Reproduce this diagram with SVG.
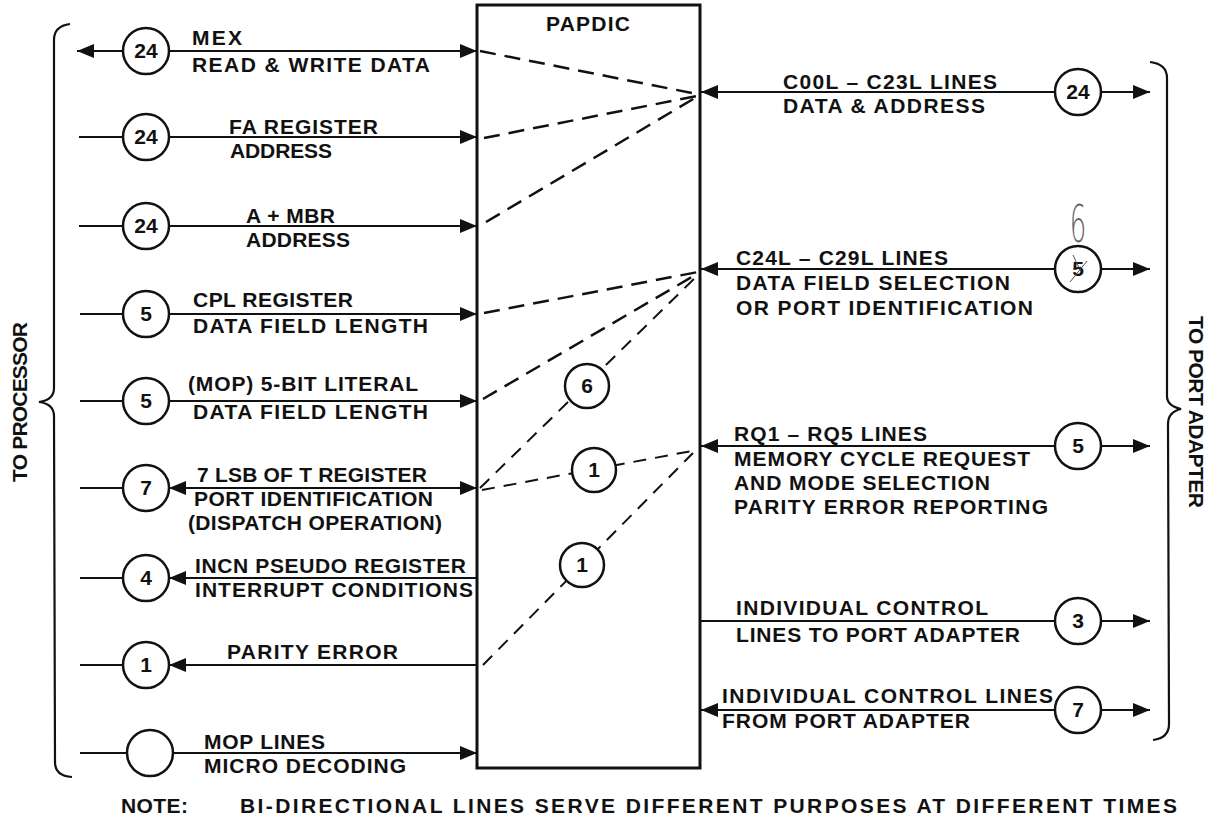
<svg xmlns="http://www.w3.org/2000/svg" width="1219" height="819" viewBox="0 0 1219 819">
<defs>
<marker id="ah" markerUnits="userSpaceOnUse" markerWidth="18" markerHeight="14" refX="17" refY="7" orient="auto"><path d="M0,0 L17,7 L0,14 z" fill="#111"/></marker>
</defs>
<style>
.t{font-family:"Liberation Sans",Arial,sans-serif;font-weight:bold;font-size:21px;fill:#111}
.r{font-family:"Liberation Sans",Arial,sans-serif;font-weight:bold;font-size:21px;fill:#111}
.n{font-family:"Liberation Sans",Arial,sans-serif;font-weight:bold;font-size:21px;fill:#111;text-anchor:middle}
.s{stroke:#111;stroke-width:2.2;fill:none}
.a{marker-end:url(#ah)}
.d{stroke:#111;stroke-width:2.5;fill:none;stroke-dasharray:16 9}
.d2{stroke:#111;stroke-width:2;fill:none;stroke-dasharray:13 9}
.c{fill:#fff;stroke:#111;stroke-width:2.5}
.br{stroke:#111;stroke-width:2.2;fill:none}
</style>
<rect width="1219" height="819" fill="#fff"/>

<g id="connectors">
  <!-- left side -->
  <line class="s a" x1="123" y1="51" x2="77" y2="51"/>
  <line class="s a" x1="169" y1="51" x2="477" y2="51"/>
  <line class="s" x1="79" y1="137" x2="123" y2="137"/>
  <line class="s a" x1="169" y1="137" x2="477" y2="137"/>
  <line class="s" x1="79" y1="226" x2="123" y2="226"/>
  <line class="s a" x1="169" y1="226" x2="477" y2="226"/>
  <line class="s" x1="80" y1="314" x2="123" y2="314"/>
  <line class="s a" x1="169" y1="314" x2="477" y2="314"/>
  <line class="s" x1="80" y1="401" x2="123" y2="401"/>
  <line class="s a" x1="169" y1="401" x2="477" y2="401"/>
  <line class="s" x1="80" y1="488" x2="123" y2="488"/>
  <line class="s a" x1="320" y1="488" x2="169" y2="488"/>
  <line class="s a" x1="320" y1="488" x2="477" y2="488"/>
  <line class="s" x1="80" y1="578" x2="123" y2="578"/>
  <line class="s a" x1="477" y1="578" x2="169" y2="578"/>
  <line class="s" x1="80" y1="665" x2="123" y2="665"/>
  <line class="s a" x1="477" y1="665" x2="169" y2="665"/>
  <line class="s" x1="80" y1="753" x2="127" y2="753"/>
  <line class="s a" x1="173" y1="753" x2="477" y2="753"/>
  <!-- right side -->
  <line class="s a" x1="1055" y1="92" x2="701" y2="92"/>
  <line class="s a" x1="1101" y1="92" x2="1150" y2="92"/>
  <line class="s a" x1="1055" y1="269" x2="701" y2="269"/>
  <line class="s a" x1="1101" y1="269" x2="1150" y2="269"/>
  <line class="s a" x1="1055" y1="446" x2="701" y2="446"/>
  <line class="s a" x1="1101" y1="446" x2="1150" y2="446"/>
  <line class="s" x1="700" y1="621" x2="1055" y2="621"/>
  <line class="s a" x1="1101" y1="621" x2="1150" y2="621"/>
  <line class="s a" x1="1055" y1="710" x2="701" y2="710"/>
  <line class="s a" x1="1101" y1="710" x2="1150" y2="710"/>
  <!-- internal dashed -->
  <line class="d" x1="480" y1="51" x2="697" y2="94"/>
  <line class="d" x1="484" y1="138" x2="697" y2="96"/>
  <line class="d" x1="486" y1="222" x2="695" y2="98"/>
  <line class="d" x1="484" y1="313" x2="698" y2="272"/>
  <line class="d" x1="483" y1="399" x2="697" y2="274"/>
  <line class="d2" x1="480" y1="488" x2="697" y2="276"/>
  <line class="d2" x1="482" y1="490" x2="692" y2="451"/>
  <line class="d2" x1="483" y1="665" x2="693" y2="453"/>
</g>

<g id="papdic">
  <rect x="477" y="5" width="223" height="763" fill="none" stroke="#111" stroke-width="3"/>
  <text class="r" x="546" y="31" textLength="84">PAPDIC</text>
</g>

<g id="left-brace">
  <path class="br" d="M70 24 Q54 26 54 40 L54 388 Q54 400 39 402 Q54 404 54 416 L55 762 Q55 776 72 777"/>
  <text class="r" font-size="19" transform="translate(27,402) rotate(-90)" x="-80" y="0" textLength="160">TO PROCESSOR</text>
</g>
<g id="right-brace">
  <path class="br" d="M1150 62 Q1167 64 1167 78 L1167 396 Q1167 406 1181 409 Q1168 412 1168 424 L1169 724 Q1169 738 1153 740"/>
  <text class="r" font-size="19" transform="translate(1189,412) rotate(90)" x="-96" y="0" textLength="192">TO PORT ADAPTER</text>
</g>

<g id="n-mex"><circle class="c" cx="146" cy="51" r="23"/><text class="n" x="146" y="58">24</text>
  <text class="t" x="192" y="45" textLength="50">MEX</text>
  <text class="t" x="192" y="72" textLength="238">READ &amp; WRITE DATA</text></g>
<g id="n-fa"><circle class="c" cx="146" cy="137" r="23"/><text class="n" x="146" y="144">24</text>
  <text class="t" x="229" y="134" textLength="149">FA REGISTER</text>
  <text class="t" x="230" y="158" textLength="102">ADDRESS</text></g>
<g id="n-ambr"><circle class="c" cx="146" cy="226" r="23"/><text class="n" x="146" y="233">24</text>
  <text class="t" x="246" y="223" textLength="89">A + MBR</text>
  <text class="t" x="246" y="247" textLength="104">ADDRESS</text></g>
<g id="n-cpl"><circle class="c" cx="146" cy="314" r="23"/><text class="n" x="146" y="321">5</text>
  <text class="t" x="193" y="307" textLength="160">CPL REGISTER</text>
  <text class="t" x="193" y="333" textLength="235">DATA FIELD LENGTH</text></g>
<g id="n-mop5"><circle class="c" cx="146" cy="401" r="23"/><text class="n" x="146" y="408">5</text>
  <text class="t" x="188" y="391" textLength="230">(MOP) 5-BIT LITERAL</text>
  <text class="t" x="193" y="419" textLength="235">DATA FIELD LENGTH</text></g>
<g id="n-tlsb"><circle class="c" cx="146" cy="488" r="23"/><text class="n" x="146" y="495">7</text>
  <text class="t" x="197" y="482" textLength="230">7 LSB OF T REGISTER</text>
  <text class="t" x="194" y="506" textLength="239">PORT IDENTIFICATION</text>
  <text class="t" x="188" y="530" textLength="254">(DISPATCH OPERATION)</text></g>
<g id="n-incn"><circle class="c" cx="146" cy="578" r="23"/><text class="n" x="146" y="585">4</text>
  <text class="t" x="195" y="573" textLength="271">INCN PSEUDO REGISTER</text>
  <text class="t" x="195" y="597" textLength="278">INTERRUPT CONDITIONS</text></g>
<g id="n-parity"><circle class="c" cx="146" cy="665" r="23"/><text class="n" x="146" y="672">1</text>
  <text class="t" x="227" y="659" textLength="171">PARITY ERROR</text></g>
<g id="n-moplines"><circle class="c" cx="150" cy="753" r="23"/>
  <text class="t" x="204" y="749" textLength="121">MOP LINES</text>
  <text class="t" x="204" y="773" textLength="202">MICRO DECODING</text></g>

<g id="n-int6"><circle class="c" cx="587" cy="386" r="22"/><text class="n" x="587" y="393">6</text></g>
<g id="n-int1a"><circle class="c" cx="594" cy="470" r="22"/><text class="n" x="594" y="477">1</text></g>
<g id="n-int1b"><circle class="c" cx="582" cy="565" r="22"/><text class="n" x="582" y="572">1</text></g>

<g id="n-c00"><circle class="c" cx="1078" cy="92" r="23"/><text class="n" x="1078" y="99">24</text>
  <text class="r" x="783" y="89" textLength="214">C00L – C23L LINES</text>
  <text class="r" x="783" y="113" textLength="202">DATA &amp; ADDRESS</text></g>
<g id="n-c24"><circle class="c" cx="1078" cy="269" r="23"/><text class="n" x="1078" y="276">5</text>
  <path d="M1073 255 L1079 268 M1070 282 L1087 261" stroke="#555" stroke-width="1" fill="none"/>
  <text x="0" y="0" transform="translate(1078,242) scale(0.5,1)" font-family="DejaVu Sans" font-weight="200" font-size="52" fill="#666" text-anchor="middle">6</text>
  <text class="r" x="736" y="265" textLength="212">C24L – C29L LINES</text>
  <text class="r" x="736" y="290" textLength="274">DATA FIELD SELECTION</text>
  <text class="r" x="736" y="315" textLength="297">OR PORT IDENTIFICATION</text></g>
<g id="n-rq"><circle class="c" cx="1078" cy="446" r="23"/><text class="n" x="1078" y="453">5</text>
  <text class="r" x="734" y="441" textLength="193">RQ1 – RQ5 LINES</text>
  <text class="r" x="734" y="466" textLength="296">MEMORY CYCLE REQUEST</text>
  <text class="r" x="734" y="490" textLength="256">AND MODE SELECTION</text>
  <text class="r" x="734" y="514" textLength="314">PARITY ERROR REPORTING</text></g>
<g id="n-ctl-to"><circle class="c" cx="1078" cy="621" r="23"/><text class="n" x="1078" y="628">3</text>
  <text class="r" x="736" y="615" textLength="252">INDIVIDUAL CONTROL</text>
  <text class="r" x="736" y="642" textLength="284">LINES TO PORT ADAPTER</text></g>
<g id="n-ctl-from"><circle class="c" cx="1078" cy="710" r="23"/><text class="n" x="1078" y="717">7</text>
  <text class="r" x="722" y="703" textLength="331">INDIVIDUAL CONTROL LINES</text>
  <text class="r" x="722" y="728" textLength="248">FROM PORT ADAPTER</text></g>

<g id="note">
  <text class="t" font-size="22" x="121" y="813" textLength="67">NOTE:</text>
  <text class="t" font-size="22" x="240" y="813" textLength="937">BI-DIRECTIONAL LINES SERVE DIFFERENT PURPOSES AT DIFFERENT TIMES</text>
</g>
</svg>
